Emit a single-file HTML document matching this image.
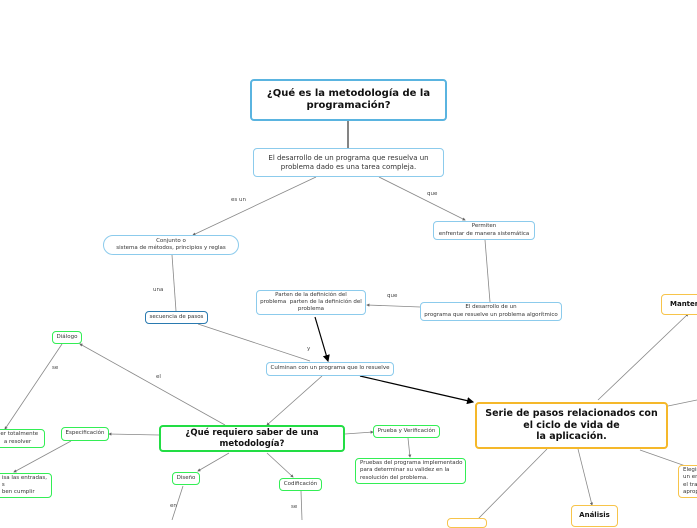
<!DOCTYPE html>
<html><head><meta charset="utf-8"><style>
html,body{margin:0;padding:0;width:697px;height:520px;overflow:hidden;background:#fff;font-family:"DejaVu Sans","Liberation Sans",sans-serif;color:#333}
.n{position:absolute;box-sizing:border-box;background:#fff;border-radius:4px;display:flex;align-items:center;justify-content:center;text-align:center;font-size:5.5px;line-height:1.3;white-space:nowrap}
.b{border:1px solid #8ccbec}
.g{border:1px solid #33ee55}
.o{border:1px solid #f7c44a}
.l{position:absolute;font-size:5.5px;color:#444}
</style></head><body>
<svg width="697" height="520" style="position:absolute;left:0;top:0">
<defs><marker id="a" markerWidth="6" markerHeight="6" refX="5" refY="3" orient="auto"><path d="M0,0L6,3L0,6z" fill="#000"/></marker>
<marker id="s" markerWidth="4" markerHeight="4" refX="3" refY="2" orient="auto"><path d="M0,0L4,2L0,4z" fill="#666"/></marker></defs>
<g stroke="#888" stroke-width="0.8" fill="none">
<line x1="316" y1="177" x2="193" y2="235" marker-end="url(#s)"/>
<line x1="379" y1="177" x2="465" y2="220" marker-end="url(#s)"/>
<line x1="172" y1="255" x2="176" y2="311"/>
<line x1="485" y1="240" x2="490" y2="302"/>
<line x1="420" y1="307" x2="367" y2="305" marker-end="url(#s)"/>
<line x1="198" y1="324" x2="310" y2="361"/>
<line x1="322" y1="376" x2="267" y2="425" marker-end="url(#s)"/>
<line x1="225" y1="425" x2="80" y2="344" marker-end="url(#s)"/>
<line x1="62" y1="344" x2="5" y2="429" marker-end="url(#s)"/>
<line x1="159" y1="435" x2="109" y2="434" marker-end="url(#s)"/>
<line x1="71" y1="441" x2="14" y2="472" marker-end="url(#s)"/>
<line x1="229" y1="453" x2="198" y2="471" marker-end="url(#s)"/>
<line x1="267" y1="453" x2="293" y2="477" marker-end="url(#s)"/>
<line x1="345" y1="434" x2="373" y2="432" marker-end="url(#s)"/>
<line x1="408" y1="438" x2="410" y2="457" marker-end="url(#s)"/>
<line x1="183" y1="486" x2="172" y2="520"/>
<line x1="301" y1="491" x2="302" y2="520"/>
<line x1="598" y1="400" x2="688" y2="314" marker-end="url(#s)"/>
<line x1="668" y1="406" x2="697" y2="400"/>
<line x1="640" y1="450" x2="697" y2="470"/>
<line x1="578" y1="449" x2="592" y2="505" marker-end="url(#s)"/>
<line x1="547" y1="449" x2="477" y2="520"/>
</g>
<line x1="348" y1="121" x2="348" y2="148" stroke="#333" stroke-width="1.2"/>
<line x1="315" y1="317" x2="328" y2="361" stroke="#000" stroke-width="1.2" marker-end="url(#a)"/>
<line x1="360" y1="376" x2="473" y2="402" stroke="#000" stroke-width="1.2" marker-end="url(#a)"/>
</svg>

<div class="n" style="left:250px;top:79px;width:197px;height:42px;border:2px solid #5ab4e0;font-size:10px;font-weight:bold;color:#111;line-height:1.25">¿Qué es la metodología de la<br>programación?</div>
<div class="n b" style="left:253px;top:148px;width:191px;height:29px;border-width:1.5px;font-size:7px;line-height:1.2">El desarrollo de un programa que resuelva un<br>problema dado es una tarea compleja.</div>
<div class="n b" style="left:103px;top:235px;width:136px;height:20px;border-radius:10px">Conjunto o<br>sistema de métodos, principios y reglas</div>
<div class="n b" style="left:433px;top:221px;width:102px;height:19px">Permiten<br>enfrentar de manera sistemática</div>
<div class="n" style="left:145px;top:311px;width:63px;height:13px;border:1px solid #2a7ab0">secuencia de pasos</div>
<div class="n b" style="left:256px;top:290px;width:110px;height:25px">Parten de la definición del<br>problema&nbsp; parten de la definición del<br>problema</div>
<div class="n b" style="left:420px;top:302px;width:142px;height:19px">El desarrollo de un<br>programa que resuelve un problema algorítmico</div>
<div class="n b" style="left:266px;top:362px;width:128px;height:14px">Culminan con un programa que lo resuelve</div>
<div class="n g" style="left:52px;top:331px;width:30px;height:13px">Diálogo</div>
<div class="n g" style="left:61px;top:427px;width:48px;height:14px">Especificación</div>
<div class="n g" style="left:-10px;top:429px;width:55px;height:19px">der totalmente<br>a resolver</div>
<div class="n g" style="left:-20px;top:473px;width:72px;height:25px;justify-content:flex-end;padding-right:4px;text-align:left">isa las entradas,<br>s<br>ben cumplir</div>
<div class="n" style="left:159px;top:425px;width:186px;height:27px;border:2px solid #22dd44;font-size:8.5px;font-weight:bold;color:#111;line-height:1.2">¿Qué requiero saber de una<br>metodología?</div>
<div class="n g" style="left:373px;top:425px;width:67px;height:13px">Prueba y Verificación</div>
<div class="n g" style="left:355px;top:458px;width:111px;height:26px;text-align:left;justify-content:flex-start;padding-left:4px">Pruebas del programa implementado<br>para determinar su validez en la<br>resolución del problema.</div>
<div class="n g" style="left:172px;top:472px;width:28px;height:13px">Diseño</div>
<div class="n g" style="left:279px;top:478px;width:43px;height:13px">Codificación</div>
<div class="n" style="left:475px;top:402px;width:193px;height:47px;border:2px solid #f5b82a;font-size:9.5px;font-weight:bold;color:#111;line-height:1.2">Serie de pasos relacionados con<br>el ciclo de vida de<br>la aplicación.</div>
<div class="n o" style="left:661px;top:294px;width:50px;height:21px;justify-content:flex-start;padding-left:8px;font-size:7px;font-weight:bold;color:#111">Mantenimiento</div>
<div class="n o" style="left:678px;top:465px;width:40px;height:33px;justify-content:flex-start;padding-left:4px;text-align:left">Elegir<br>un en<br>el tra<br>aprop</div>
<div class="n o" style="left:571px;top:505px;width:47px;height:22px;align-items:flex-start;padding-top:5px;font-size:7px;font-weight:bold;color:#111">Análisis</div>
<div class="n o" style="left:447px;top:518px;width:40px;height:10px"></div>

<div class="l" style="left:231px;top:197px">es un</div>
<div class="l" style="left:427px;top:191px">que</div>
<div class="l" style="left:153px;top:287px">una</div>
<div class="l" style="left:387px;top:293px">que</div>
<div class="l" style="left:307px;top:346px">y</div>
<div class="l" style="left:156px;top:374px">el</div>
<div class="l" style="left:52px;top:365px">se</div>
<div class="l" style="left:170px;top:503px">en</div>
<div class="l" style="left:291px;top:504px">se</div>
</body></html>
